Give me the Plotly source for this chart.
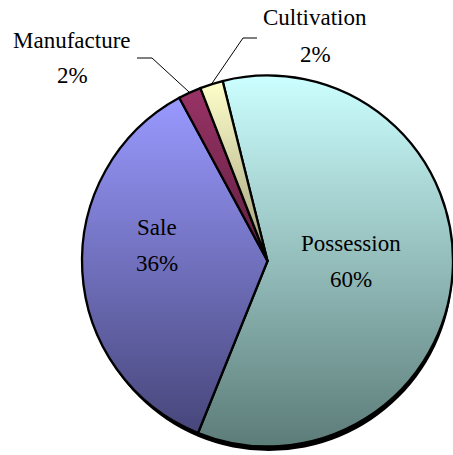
import math
import json
import plotly.graph_objects as go

# ---- data ----
categories = ["Possession", "Sale", "Manufacture", "Cultivation"]
values = [60, 36, 2, 2]

# ---- style ----
top_colors = ["#CCFFFF", "#9999FF", "#993366", "#FFFFCC"]
bottom_colors = ["#5C7C78", "#47467A", "#5E1F3F", "#A09E78"]
mid_colors = ["#94BEBC", "#7070BD", "#7B2952", "#D0CFA2"]

W, H = 453, 455
FONT = "Liberation Serif"
FS = 23
ROT = -14  # start angle of first slice (deg, clockwise from 12 o'clock)

# pie geometry in pixels (domain -> center/radius)
dom_x = [82 / W, 1.0]
dom_y = [8 / H, 380 / H]
r_px = min((dom_x[1] - dom_x[0]) * W, (dom_y[1] - dom_y[0]) * H) / 2
cx_px = (dom_x[0] + dom_x[1]) / 2 * W
cy_px = H - (dom_y[0] + dom_y[1]) / 2 * H


def px(x, y):
    return x / W, 1 - y / H


fig = go.Figure()

# shadow
fig.add_trace(go.Pie(
    values=[1], labels=["shadow"], sort=False,
    domain=dict(x=[85 / W, 1.0], y=[4 / H, 372 / H]),
    marker=dict(colors=["#000000"], line=dict(width=0)),
    textinfo="none", hoverinfo="skip", showlegend=False,
))

fig.add_trace(go.Pie(
    values=values, labels=categories, sort=False, direction="clockwise",
    rotation=ROT,
    domain=dict(x=dom_x, y=dom_y),
    marker=dict(colors=mid_colors, line=dict(color="#000000", width=2.3)),
    textinfo="none", hoverinfo="label+percent", showlegend=False,
))

total = sum(values)
pcts = [f"{round(v / total * 100)}%" for v in values]

# label positions (pixel, center of name line); percent line placed below
label_pos = {
    "Possession": (351, 243),
    "Sale": (157, 227),
    "Manufacture": (72, 40),
    "Cultivation": (315, 18),
}
LINE_GAP = 36

annotations = []
for cat, pct in zip(categories, pcts):
    x, y = label_pos[cat]
    ax_, ay_ = px(x, y)
    annotations.append(dict(x=ax_, y=ay_, xref="paper", yref="paper", text=cat,
                            showarrow=False, font=dict(family=FONT, size=FS, color="black"),
                            xanchor="center", yanchor="middle"))
    ax2, ay2 = px(x, y + LINE_GAP)
    annotations.append(dict(x=ax2, y=ay2, xref="paper", yref="paper", text=pct,
                            showarrow=False, font=dict(family=FONT, size=FS, color="black"),
                            xanchor="center", yanchor="middle"))

# leader lines for the small slices, from slice mid-angle at the rim
cum = 0
mid_angles = {}
for cat, v in zip(categories, values):
    mid_angles[cat] = ROT + (cum + v / 2) / total * 360
    cum += v

elbows = {
    "Manufacture": ((152, 58), (137, 58)),
    "Cultivation": ((243, 38), (257, 38)),
}
shapes = []
for cat, (e1, e2) in elbows.items():
    a = math.radians(mid_angles[cat])
    ex = cx_px + r_px * math.sin(a)
    ey = cy_px - r_px * math.cos(a)
    p0 = px(ex, ey)
    p1 = px(*e1)
    p2 = px(*e2)
    shapes.append(dict(type="path", xref="paper", yref="paper",
                       path=f"M {p0[0]},{p0[1]} L {p1[0]},{p1[1]} L {p2[0]},{p2[1]}",
                       line=dict(color="black", width=1)))

fig.update_layout(
    width=W, height=H,
    margin=dict(l=0, r=0, t=0, b=0),
    paper_bgcolor="white", plot_bgcolor="white",
    annotations=annotations, shapes=shapes,
    showlegend=False,
)

post = """
document.body.style.margin = '0';
document.body.style.overflow = 'hidden';
var gd = document.getElementById('{plot_id}');
var TOP = %s, BOT = %s;
function applyGrad(){
  var svg = gd.querySelector('svg.main-svg');
  if(!svg) return;
  var defs = svg.querySelector('defs');
  var NS = 'http://www.w3.org/2000/svg';
  for (var i = 0; i < TOP.length; i++) {
    var id = 'pgrad' + i;
    if (!document.getElementById(id)) {
      var g = document.createElementNS(NS, 'linearGradient');
      g.setAttribute('id', id);
      g.setAttribute('x1', '0'); g.setAttribute('y1', '0');
      g.setAttribute('x2', '0'); g.setAttribute('y2', '1');
      var s1 = document.createElementNS(NS, 'stop');
      s1.setAttribute('offset', '0'); s1.setAttribute('stop-color', TOP[i]);
      var s2 = document.createElementNS(NS, 'stop');
      s2.setAttribute('offset', '1'); s2.setAttribute('stop-color', BOT[i]);
      g.appendChild(s1); g.appendChild(s2);
      defs.appendChild(g);
    }
  }
  var traces = gd.querySelectorAll('.pielayer .trace');
  if (traces.length < 2) return;
  var paths = traces[1].querySelectorAll('path.surface');
  for (var j = 0; j < paths.length && j < TOP.length; j++) {
    paths[j].style.fill = 'url(#pgrad' + j + ')';
  }
}
applyGrad();
setTimeout(applyGrad, 30);
if (gd.on) gd.on('plotly_afterplot', applyGrad);
""" % (json.dumps(top_colors), json.dumps(bottom_colors))

fig.write_html("out.html", post_script=post, config={"displayModeBar": False})
